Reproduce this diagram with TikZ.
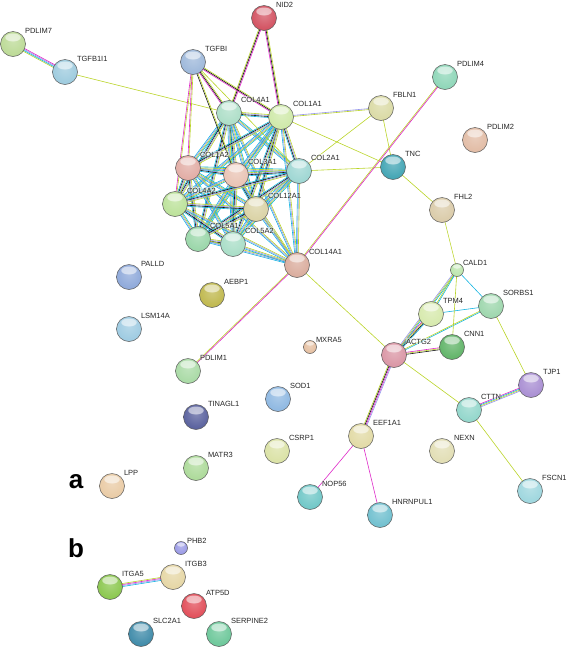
\documentclass[tikz,border=0pt]{standalone}
\usepackage{fontspec}
\setmainfont{Liberation Sans}
\usetikzlibrary{calc}
\definecolor{tmC}{RGB}{186,212,40}
\definecolor{expC}{RGB}{222,40,200}
\definecolor{dbC}{RGB}{20,180,225}
\definecolor{coexC}{RGB}{20,20,20}
\definecolor{homC}{RGB}{150,150,235}
\colorlet{sphcol}{gray}
\pgfdeclareradialshading[sphcol]{sphere}{\pgfpoint{0bp}{7bp}}{%
  color(0bp)=(sphcol!70!white); color(22bp)=(sphcol!90!white); color(36bp)=(sphcol);
  color(45bp)=(sphcol!75!black); color(53bp)=(sphcol!30!black); color(70bp)=(black)}
\pgfdeclarelayer{edges}
\pgfsetlayers{edges,main}
\tikzset{
  protein/.style={circle, draw=black!65, line width=0.5pt, shading=sphere, inner sep=0pt},
  gloss/.style={white, opacity=0.55},
  plab/.style={font=\fontsize{7.5}{8}\selectfont, anchor=base west, inner sep=0.3pt, text=black!85,
    fill=white, fill opacity=0.5, text opacity=1},
  panel/.style={font=\fontsize{26}{28}\selectfont\bfseries, inner sep=0pt},
  strand/.style={line width=0.6pt}
}
\newcommand{\protnode}[6][12.5]{%
  \definecolor{sphcol}{HTML}{#5}%
  \node[protein, minimum size={2*#1pt}] (#2) at (#3,#4) {};
  \fill[gloss] (#3,{#4-0.52*#1}) ellipse [x radius={0.62*#1}, y radius={0.32*#1}];
  \node[plab] (#2-lab) at ({#3+#1-1},{#4-#1+1.5}) {#6};
}
\newcommand{\link}[3]{%
  \foreach \c [count=\i] in {#3} {\xdef\nlk{\i}}%
  \foreach \c [count=\i] in {#3} {%
    \pgfmathsetlengthmacro\off{(\i-(\nlk+1)/2)*1.0pt}%
    \draw[strand, draw=\c] ($(#1)!\off!90:(#2)$) -- ($(#2)!\off!-90:(#1)$);
  }%
}
\begin{document}
\begin{tikzpicture}[x=1pt,y=-1pt]
\useasboundingbox (0,0) rectangle (567,654);
% proteins
\protnode{PDLIM7}{13}{44}{B8D890}{PDLIM7}
\protnode{TGFB1I1}{65}{72}{98C8DC}{TGFB1I1}
\protnode{NID2}{264}{18}{D04858}{NID2}
\protnode{TGFBI}{193}{62}{98B4D8}{TGFBI}
\protnode{COL4A1}{229}{113}{A8DCC4}{COL4A1}
\protnode{COL1A1}{281}{117}{CCE8A4}{COL1A1}
\protnode{FBLN1}{381}{108}{D8D8A0}{FBLN1}
\protnode{PDLIM4}{445}{77}{88D4B4}{PDLIM4}
\protnode{PDLIM2}{475}{140}{E0B8A0}{PDLIM2}
\protnode{TNC}{393}{167}{38A0B0}{TNC}
\protnode{FHL2}{442}{210}{D8C8A4}{FHL2}
\protnode{COL1A2}{188}{168}{E0A8A0}{COL1A2}
\protnode{COL3A1}{236}{175}{E8C0B0}{COL3A1}
\protnode{COL2A1}{299}{171}{98D4D0}{COL2A1}
\protnode{COL4A2}{175}{204}{B8E094}{COL4A2}
\protnode{COL12A1}{256}{209}{D8D0A0}{COL12A1}
\protnode{COL5A1}{198}{239}{94D4A4}{COL5A1}
\protnode{COL5A2}{233}{244}{A4DCC4}{COL5A2}
\protnode{COL14A1}{297}{265}{D8A898}{COL14A1}
\protnode[6.5]{CALD1}{457}{270}{B8E4A8}{CALD1}
\protnode{SORBS1}{491}{306}{98D4A8}{SORBS1}
\protnode{TPM4}{431}{314}{D4E8A8}{TPM4}
\protnode{CNN1}{452}{347}{58B060}{CNN1}
\protnode{ACTG2}{394}{355}{D890A0}{ACTG2}
\protnode{TJP1}{531}{385}{A488D0}{TJP1}
\protnode{CTTN}{469}{410}{8CD4C8}{CTTN}
\protnode{PALLD}{129}{277}{88A4D8}{PALLD}
\protnode{AEBP1}{212}{295}{BCB444}{AEBP1}
\protnode{LSM14A}{129}{329}{98C8E0}{LSM14A}
\protnode[6.5]{MXRA5}{310}{347}{E4BC9C}{MXRA5}
\protnode{PDLIM1}{188}{371}{A4D8A0}{PDLIM1}
\protnode{SOD1}{278}{399}{88B4E0}{SOD1}
\protnode{TINAGL1}{196}{417}{505898}{TINAGL1}
\protnode{EEF1A1}{361}{436}{E0D8A0}{EEF1A1}
\protnode{CSRP1}{277}{451}{D8E0A0}{CSRP1}
\protnode{NEXN}{442}{451}{E0DCB0}{NEXN}
\protnode{MATR3}{196}{468}{A8D894}{MATR3}
\protnode{LPP}{112}{486}{E8C8A0}{LPP}
\protnode{FSCN1}{530}{491}{98D4DC}{FSCN1}
\protnode{NOP56}{310}{497}{68C4C4}{NOP56}
\protnode{HNRNPUL1}{380}{515}{68BCCC}{HNRNPUL1}
\protnode[6.5]{PHB2}{181}{548}{9494E4}{PHB2}
\protnode{ITGB3}{173}{577}{E4D4A0}{ITGB3}
\protnode{ITGA5}{110}{587}{84C444}{ITGA5}
\protnode{ATP5D}{194}{606}{E04450}{ATP5D}
\protnode{SLC2A1}{141}{634}{3484A4}{SLC2A1}
\protnode{SERPINE2}{219}{634}{64C494}{SERPINE2}
% panel letters
\node[panel] (pa) at (76,482) {a};
\node[panel] (pb) at (76,548) {b};
% edges
\begin{pgfonlayer}{edges}
\foreach \a [count=\i] in {COL4A1,COL1A1,COL1A2,COL3A1,COL2A1,COL4A2,COL12A1,COL5A1,COL5A2,COL14A1} {
  \foreach \b [count=\j] in {COL4A1,COL1A1,COL1A2,COL3A1,COL2A1,COL4A2,COL12A1,COL5A1,COL5A2,COL14A1} {
    \ifnum\j>\i
      \ifnum\j=10 \link{\a}{\b}{dbC,homC,tmC}\else
        \ifodd\numexpr\i+\j\relax \link{\a}{\b}{dbC,coexC,homC,tmC}\else\link{\a}{\b}{dbC,homC,tmC,dbC}\fi
      \fi
    \fi
  }
}
\link{PDLIM7}{TGFB1I1}{tmC,dbC,homC,expC}
\link{TGFB1I1}{COL4A1}{tmC}
\link{NID2}{COL4A1}{tmC,coexC,expC}
\link{NID2}{COL1A1}{expC,coexC,tmC}
\link{TGFBI}{COL4A1}{expC,coexC,tmC}
\link{TGFBI}{COL1A1}{expC,coexC,tmC}
\link{TGFBI}{COL1A2}{expC,tmC}
\link{TGFBI}{COL4A2}{expC,tmC}
\link{TGFBI}{COL3A1}{coexC,tmC}
\link{TGFBI}{COL2A1}{tmC}
\link{COL1A1}{FBLN1}{tmC,homC}
\link{COL2A1}{FBLN1}{tmC}
\link{COL1A1}{TNC}{tmC}
\link{COL2A1}{TNC}{tmC}
\link{FBLN1}{TNC}{tmC}
\link{TNC}{FHL2}{tmC}
\link{PDLIM4}{COL14A1}{tmC,expC}
\link{FHL2}{CALD1}{tmC}
\link{COL14A1}{ACTG2}{tmC}
\link{COL14A1}{PDLIM1}{tmC,expC}
\link{ACTG2}{EEF1A1}{tmC,coexC,expC,homC}
\link{ACTG2}{CTTN}{tmC}
\link{ACTG2}{TPM4}{dbC,coexC,tmC,expC}
\link{ACTG2}{CNN1}{coexC,tmC,expC}
\link{ACTG2}{CALD1}{dbC,tmC,homC}
\link{ACTG2}{SORBS1}{dbC,tmC}
\link{TPM4}{CALD1}{dbC,tmC}
\link{TPM4}{SORBS1}{dbC}
\link{CALD1}{SORBS1}{dbC}
\link{CALD1}{CNN1}{tmC}
\link{SORBS1}{TJP1}{tmC}
\link{TJP1}{CTTN}{expC,dbC,tmC,homC}
\link{CTTN}{FSCN1}{tmC}
\link{EEF1A1}{NOP56}{expC}
\link{EEF1A1}{HNRNPUL1}{expC}
\link{ITGA5}{ITGB3}{dbC,homC,expC,tmC}
\end{pgfonlayer}
\end{tikzpicture}
\end{document}
